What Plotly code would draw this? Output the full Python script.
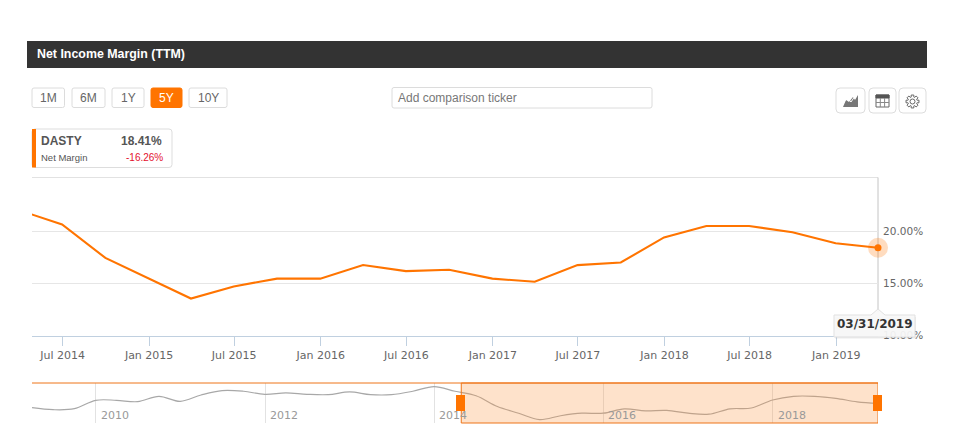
import math
import plotly.graph_objects as go

W, H = 954, 440
H_EFF = 435
UI_FONT = "Liberation Sans"
AXIS_FONT = "DejaVu Sans"
ORANGE = "#ff7400"

margin_dates = ["2014-03-31", "2014-06-30", "2014-09-30", "2014-12-31", "2015-03-31", "2015-06-30", "2015-09-30",
                "2015-12-31", "2016-03-31", "2016-06-30", "2016-09-30", "2016-12-31", "2017-03-31", "2017-06-30",
                "2017-09-30", "2017-12-31", "2018-03-31", "2018-06-30", "2018-09-30", "2018-12-31", "2019-03-31"]
margin_values = [22.0, 20.65, 17.44, 15.45, 13.54, 14.7, 15.45, 15.45, 16.75, 16.17, 16.3, 15.45, 15.15, 16.75,
                 17.0, 19.4, 20.5, 20.5, 19.9, 18.85, 18.41]

history_dates = ["2009-03-31", "2009-06-30", "2009-09-30", "2009-12-31", "2010-03-31", "2010-06-30", "2010-09-30",
                 "2010-12-31", "2011-03-31", "2011-06-30", "2011-09-30", "2011-12-31", "2012-03-31", "2012-06-30",
                 "2012-09-30", "2012-12-31", "2013-03-31", "2013-06-30", "2013-09-30", "2013-12-31"]
history_values = [17.1, 16.5, 16.8, 19.3, 19.3, 18.9, 20.5, 19.0, 20.9, 22.2, 22.0, 21.1, 21.5, 21.1,
                  21.0, 21.8, 21.0, 21.0, 22.0, 23.4]

x_tick_dates = ["2014-07-01", "2015-01-01", "2015-07-01", "2016-01-01", "2016-07-01", "2017-01-01", "2017-07-01",
                "2018-01-01", "2018-07-01", "2019-01-01"]
x_tick_labels = ["Jul 2014", "Jan 2015", "Jul 2015", "Jan 2016", "Jul 2016", "Jan 2017", "Jul 2017",
                 "Jan 2018", "Jul 2018", "Jan 2019"]
y_tick_values = [10, 15, 20]
y_tick_labels = ["10.00%", "15.00%", "20.00%"]
nav_years = ["2010", "2012", "2014", "2016", "2018"]
buttons = ["1M", "6M", "1Y", "5Y", "10Y"]
button_edges = [(32, 64.5), (72, 105), (112, 144), (151, 182), (189, 227)]


def px(x):
    return x / W


def py(y):
    return 1 - y / H_EFF


def rect(x0, y0, x1, y1, fill="rgba(0,0,0,0)", line="rgba(0,0,0,0)", width=1):
    return dict(type="rect", xref="paper", yref="paper", x0=px(x0), x1=px(x1), y0=py(y0), y1=py(y1),
                fillcolor=fill, line=dict(color=line, width=width))


def round_rect(x0, y0, x1, y1, r=3, fill="#ffffff", line="#dcdcdc", width=1):
    p = [f"M{px(x0 + r)},{py(y0)}", f"L{px(x1 - r)},{py(y0)}", f"Q{px(x1)},{py(y0)} {px(x1)},{py(y0 + r)}",
         f"L{px(x1)},{py(y1 - r)}", f"Q{px(x1)},{py(y1)} {px(x1 - r)},{py(y1)}", f"L{px(x0 + r)},{py(y1)}",
         f"Q{px(x0)},{py(y1)} {px(x0)},{py(y1 - r)}", f"L{px(x0)},{py(y0 + r)}",
         f"Q{px(x0)},{py(y0)} {px(x0 + r)},{py(y0)}", "Z"]
    return dict(type="path", xref="paper", yref="paper", path=" ".join(p), fillcolor=fill,
                line=dict(color=line, width=width))


def poly(points, fill="rgba(0,0,0,0)", line="rgba(0,0,0,0)", width=1, close=True):
    s = "M" + " L".join(f"{px(a)},{py(b)}" for a, b in points) + (" Z" if close else "")
    return dict(type="path", xref="paper", yref="paper", path=s, fillcolor=fill, line=dict(color=line, width=width))


def seg(x0, y0, x1, y1, color, width=1, layer="above"):
    return dict(type="line", xref="paper", yref="paper", x0=px(x0), x1=px(x1), y0=py(y0), y1=py(y1), layer=layer,
                line=dict(color=color, width=width))


def label(x, y, text, size=12, color="#555555", anchor="left", bold=False, family=UI_FONT):
    return dict(xref="paper", yref="paper", x=px(x), y=py(y), text=f"<b>{text}</b>" if bold else text,
                showarrow=False, xanchor=anchor, yanchor="middle", borderpad=0,
                font=dict(family=family, size=size, color=color))


shapes = [rect(27, 41, 927, 68, fill="#333333")]
annotations = [label(36, 54.5, "Net Income Margin (TTM)", 12.4, "#ffffff", bold=True)]

for name, (a, b) in zip(buttons, button_edges):
    active = name == "5Y"
    shapes.append(round_rect(a, 88, b, 107.5, 2, ORANGE if active else "#ffffff", ORANGE if active else "#dcdcdc"))
    annotations.append(label((a + b) / 2, 98, name, 12, "#ffffff" if active else "#666666", "center"))

shapes.append(round_rect(392, 87.5, 652, 108, 2))
annotations.append(label(397, 98, "Add comparison ticker", 12, "#777777"))

for a, b in [(836, 865), (869, 896), (899, 926)]:
    shapes.append(round_rect(a, 88, b, 113, 4, "#ffffff", "#dddddd"))

# chart-type icon
shapes.append(poly([(843, 107), (846, 100), (849, 102), (853, 97), (855, 100), (858, 95), (858, 107)], fill="#777777"))
shapes.append(poly([(843, 104), (847, 97.5), (851, 102), (855, 96), (858, 94)], line="#ffffff", width=1, close=False))
# table icon
shapes.append(rect(876, 95, 889, 107, fill="#ffffff", line="#666666"))
shapes.append(rect(876, 95, 889, 98, fill="#555555", line="#555555"))
shapes += [seg(880.3, 98, 880.3, 107, "#888888"), seg(884.6, 98, 884.6, 107, "#888888"),
           seg(876, 102.5, 889, 102.5, "#888888")]
# settings icon
gear = []
for i in range(8):
    c = i * math.pi / 4
    for d, r in [(-0.3, 4.6), (-0.2, 6.6), (0.2, 6.6), (0.3, 4.6)]:
        gear.append((912.5 + r * math.cos(c + d), 101.5 + r * math.sin(c + d)))
shapes.append(poly(gear, line="#666666", fill="#ffffff"))
shapes.append(dict(type="circle", xref="paper", yref="paper", x0=px(910), x1=px(915), y0=py(99), y1=py(104),
                   fillcolor="#ffffff", line=dict(color="#666666", width=1)))

# value box
shapes.append(round_rect(32, 129, 172, 167.5, 3, "#ffffff", "#dddddd"))
shapes.append(rect(32, 129, 36, 167.5, fill=ORANGE))
annotations += [label(40, 141, "DASTY", 12, "#555555", bold=True),
                label(163, 141, f"{margin_values[-1]:.2f}%", 12, "#555555", "right", bold=True),
                label(40, 157.5, "Net Margin", 9.5, "#555555"),
                label(163.5, 157.5, "-16.26%", 10, "#e3102e", "right")]

# top border of the plot and crosshair on the latest point
shapes.append(seg(32, 177.5, 878, 177.5, "#e2e2e2", layer="below"))
shapes.append(seg(878, 177.5, 878, 312, "#c4c4c4", layer="below"))

# navigator selection and frame
shapes.append(seg(32, 383, 878, 383, "#ee7518", 1))
shapes.append(dict(type="rect", xref="x2", yref="paper", x0="2014-04-27", x1="2019-03-31", y0=py(423), y1=py(383),
                   fillcolor="rgba(250,150,70,0.28)", line=dict(color="#ee7518", width=1)))
shapes.append(rect(456, 395, 465, 411, fill=ORANGE))
shapes.append(rect(873, 395, 882, 411, fill=ORANGE))

for y in nav_years:
    annotations.append(dict(xref="x2", yref="paper", x=f"{y}-01-01", y=py(415), text=y, xanchor="left", yanchor="middle",
                            xshift=3, showarrow=False, font=dict(family=AXIS_FONT, size=11, color="#999999")))

# tooltip
shapes.append(rect(835, 317, 916, 338.5, fill="rgba(120,120,120,0.14)"))
shapes.append(poly([(834, 315), (871, 315), (878, 309), (885, 315), (915, 315), (915, 337), (834, 337)],
                   fill="rgba(248,248,248,0.93)", line="rgba(225,225,225,1)"))
annotations.append(label(874.5, 324, "03/31/2019", 12, "#333333", "center", bold=True, family=AXIS_FONT))

fig = go.Figure()
fig.add_trace(go.Scatter(x=margin_dates, y=margin_values, mode="lines", line=dict(color=ORANGE, width=2.1),
                         xaxis="x", yaxis="y", hoverinfo="skip"))
fig.add_trace(go.Scatter(x=margin_dates[-1:], y=margin_values[-1:], mode="markers", cliponaxis=False,
                         marker=dict(size=20, color="rgba(255,116,0,0.25)"), xaxis="x", yaxis="y", hoverinfo="skip"))
fig.add_trace(go.Scatter(x=margin_dates[-1:], y=margin_values[-1:], mode="markers", cliponaxis=False,
                         marker=dict(size=7, color=ORANGE), xaxis="x", yaxis="y", hoverinfo="skip"))
fig.add_trace(go.Scatter(x=history_dates + margin_dates, y=history_values + margin_values, mode="lines",
                         line=dict(color="#a8a8a8", width=1.2, shape="spline", smoothing=1),
                         xaxis="x2", yaxis="y2", hoverinfo="skip"))

fig.update_layout(
    width=W, height=H, autosize=False, margin=dict(l=0, r=0, t=0, b=0), showlegend=False,
    paper_bgcolor="#ffffff", plot_bgcolor="#ffffff", shapes=shapes, annotations=annotations,
    xaxis=dict(domain=[px(32), px(878)], range=["2014-04-27", "2019-03-31"], type="date", anchor="y",
               tickmode="array", tickvals=x_tick_dates, ticktext=x_tick_labels, ticks="outside", ticklen=9,
               tickcolor="#c0d0e0", tickwidth=1, showline=True, linecolor="#c0d0e0", linewidth=1, showgrid=False,
               zeroline=False, tickfont=dict(family=AXIS_FONT, size=11, color="#666666")),
    yaxis=dict(domain=[py(336), py(178)], range=[9.95, 25.1], anchor="x", side="right", tickmode="array",
               tickvals=y_tick_values, ticktext=y_tick_labels, showgrid=True, gridcolor="#e6e6e6", gridwidth=1,
               zeroline=False, showline=False, ticks="outside", ticklen=2, tickcolor="rgba(0,0,0,0)",
               tickfont=dict(family=AXIS_FONT, size=10.5, color="#666666")),
    xaxis2=dict(domain=[px(32), px(878)], range=["2009-03-31", "2019-03-31"], type="date", anchor="y2",
                tickmode="array", tickvals=[f"{y}-01-01" for y in nav_years], showticklabels=False, ticks="",
                showgrid=True, gridcolor="#e2e2e2", gridwidth=1, zeroline=False, showline=False),
    yaxis2=dict(domain=[py(423), py(383)], range=[12.53, 24.47], anchor="x2", visible=False, showgrid=False,
                zeroline=False),
)

fig.write_html("out.html", config={"displayModeBar": False},
               post_script="document.body.style.margin='0';")
